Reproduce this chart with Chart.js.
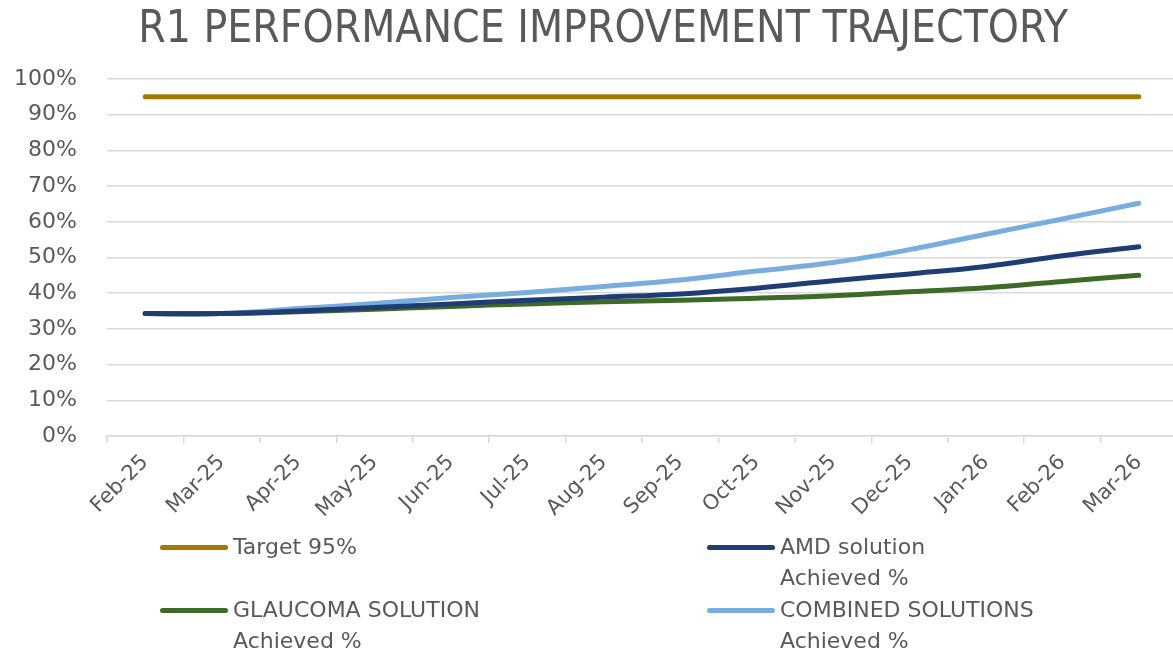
<!DOCTYPE html>
<html>
<head>
<meta charset="utf-8">
<script src="https://cdn.jsdelivr.net/npm/chart.js@4.4.1/dist/chart.umd.min.js"></script>
<style>
    html, body { margin: 0; padding: 0; background: #fff; overflow: hidden; }
    #wrap { position: relative; width: 1180px; height: 653px; }
    #legend { position: absolute; left: 0; top: 0; width: 1173px; height: 653px; pointer-events: none;
        font-family: "DejaVu Sans", sans-serif; font-size: 22px; color: #595959; }
    .item { position: absolute; line-height: 30px; }
    .swatch { position: absolute; width: 68px; height: 5px; border-radius: 3px; }
</style>
</head>
<body>
<div id="wrap">
    <canvas id="trajectoryChart" width="1180" height="653"></canvas>
    <div id="legend"></div>
</div>
<script>
const chartTitle = 'R1 PERFORMANCE IMPROVEMENT TRAJECTORY';
const months = ['Feb-25', 'Mar-25', 'Apr-25', 'May-25', 'Jun-25', 'Jul-25', 'Aug-25',
    'Sep-25', 'Oct-25', 'Nov-25', 'Dec-25', 'Jan-26', 'Feb-26', 'Mar-26'];
const target = [95, 95, 95, 95, 95, 95, 95, 95, 95, 95, 95, 95, 95, 95];
const amdAchieved = [34.3, 34.3, 35.0, 36.0, 37.0, 38.0, 38.9, 39.8, 41.4, 43.5, 45.4, 47.5, 50.5, 53.0];
const glaucomaAchieved = [34.3, 34.3, 34.8, 35.5, 36.3, 37.0, 37.6, 38.0, 38.6, 39.3, 40.4, 41.5, 43.3, 45.0];
const combinedAchieved = [34.3, 34.3, 35.7, 37.1, 38.8, 40.2, 41.9, 43.7, 46.2, 48.6, 52.2, 56.5, 60.8, 65.2];
const yTicks = [0, 10, 20, 30, 40, 50, 60, 70, 80, 90, 100];

const seriesNames = ['Target 95%', 'AMD solution\nAchieved %', 'GLAUCOMA SOLUTION\nAchieved %', 'COMBINED SOLUTIONS\nAchieved %'];
const seriesColors = ['#A07B00', '#1F3D74', '#3D6A26', '#78AEDF'];

const textColor = '#595959';
const gridColor = '#D9D9D9';

function lineDataset(label, data, color) {
    return {
        label: label,
        data: data,
        borderColor: color,
        backgroundColor: color,
        borderWidth: 5,
        borderCapStyle: 'round',
        pointRadius: 0,
        fill: false,
        tension: 0.4
    };
}

// the title sits a little right of the canvas middle, so draw it here
const titlePlugin = {
    id: 'offsetTitle',
    afterDraw(chart) {
        const c = chart.ctx;
        c.save();
        c.fillStyle = textColor;
        c.font = '44px "Liberation Sans Narrow", "DejaVu Sans Condensed", sans-serif';
        c.textAlign = 'center';
        c.textBaseline = 'middle';
        c.fillText(chartTitle, 603, 31);
        c.restore();
    }
};

const ctx = document.getElementById('trajectoryChart').getContext('2d');
const chart = new Chart(ctx, {
    type: 'line',
    data: {
        labels: months,
        datasets: [
            lineDataset(seriesNames[0], target, seriesColors[0]),
            lineDataset(seriesNames[1], amdAchieved, seriesColors[1]),
            lineDataset(seriesNames[2], glaucomaAchieved, seriesColors[2]),
            lineDataset(seriesNames[3], combinedAchieved, seriesColors[3])
        ]
    },
    plugins: [titlePlugin],
    options: {
        responsive: false,
        animation: false,
        layout: { padding: { left: 0, right: 3, top: 79, bottom: 0 } },
        plugins: {
            legend: { display: false },
            tooltip: { enabled: false },
            title: { display: false }
        },
        scales: {
            x: {
                offset: true,
                grid: { display: true, offset: true, drawOnChartArea: false, drawTicks: true, tickLength: 7, color: gridColor, lineWidth: 1.5 },
                border: { display: true, color: gridColor, width: 1.5 },
                ticks: {
                    autoSkip: false,
                    maxRotation: 45,
                    minRotation: 45,
                    padding: 7,
                    color: textColor,
                    font: { family: '"DejaVu Sans", sans-serif', size: 21 }
                },
                afterFit: (scale) => { scale.height = 217; }
            },
            y: {
                min: 0,
                max: 100,
                afterBuildTicks: (scale) => { scale.ticks = yTicks.map(v => ({ value: v })); },
                grid: { color: gridColor, lineWidth: 1.5, drawTicks: false },
                border: { display: false },
                ticks: {
                    padding: 30,
                    color: textColor,
                    font: { family: '"DejaVu Sans", sans-serif', size: 22 },
                    callback: (v) => v + '%'
                },
                afterFit: (scale) => { scale.width = 107; }
            }
        }
    }
});

// legend drawn as html: two columns, wrapped labels
const legendPos = [[160, 547], [707, 547], [160, 610], [707, 610]];
const legendBox = document.getElementById('legend');
seriesNames.forEach((name, i) => {
    const [x, y] = legendPos[i];
    const sw = document.createElement('div');
    sw.className = 'swatch';
    sw.style.left = x + 'px';
    sw.style.top = (y - 2.5) + 'px';
    sw.style.background = seriesColors[i];
    legendBox.appendChild(sw);
    name.split('\n').forEach((line, j) => {
        const t = document.createElement('div');
        t.className = 'item';
        t.textContent = line;
        t.style.left = (x + 73) + 'px';
        t.style.top = (y - 15 + j * 31) + 'px';
        legendBox.appendChild(t);
    });
});
</script>
</body>
</html>
